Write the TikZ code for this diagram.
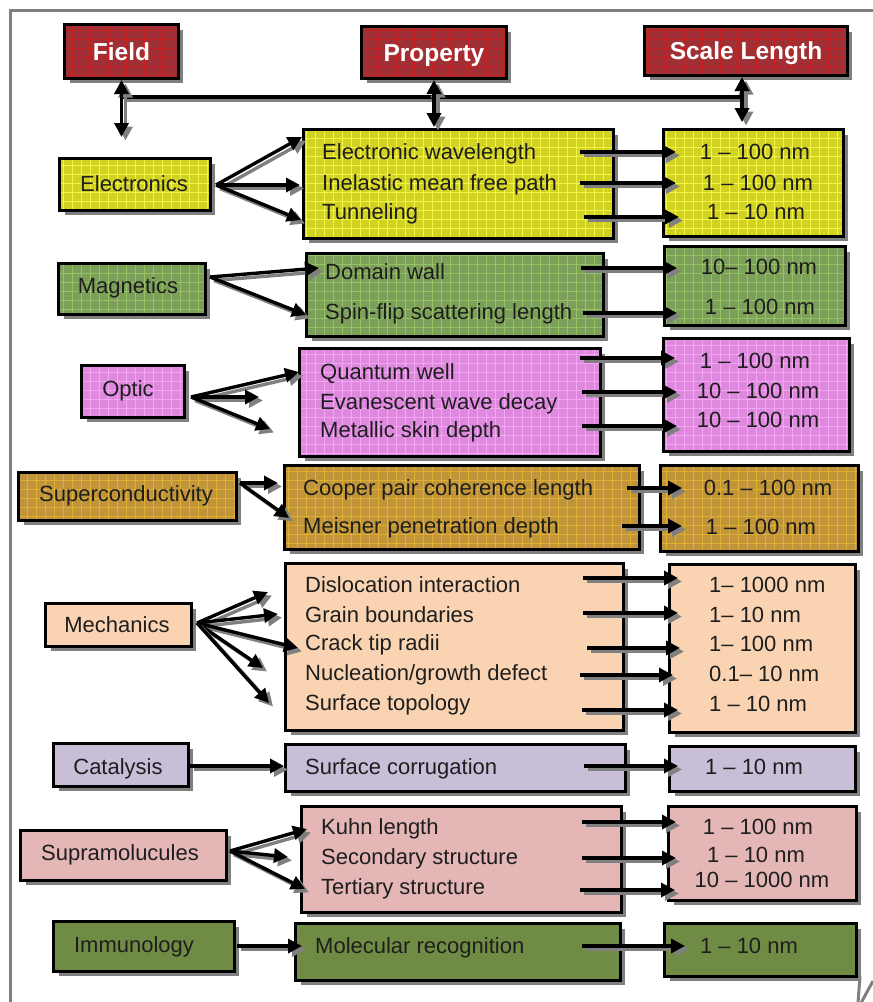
\documentclass[tikz,border=0pt]{standalone}
\usepackage{fontspec}
\setmainfont{Liberation Sans}
\usetikzlibrary{arrows.meta,shadows,patterns.meta}
\definecolor{hdrc}{RGB}{158,48,54}
\definecolor{hdrg}{RGB}{200,30,30}
\definecolor{yelc}{RGB}{210,210,34}
\definecolor{yelg}{RGB}{245,245,70}
\definecolor{grnc}{RGB}{124,160,90}
\definecolor{grng}{RGB}{150,195,100}
\definecolor{pnkc}{RGB}{222,136,222}
\definecolor{pnkg}{RGB}{245,165,245}
\definecolor{gldc}{RGB}{192,148,56}
\definecolor{gldg}{RGB}{225,175,50}
\definecolor{pchc}{RGB}{250,212,178}
\definecolor{lavc}{RGB}{200,190,215}
\definecolor{rosc}{RGB}{228,182,182}
\definecolor{olvc}{RGB}{112,140,68}
\definecolor{txtc}{RGB}{30,30,30}
\newcommand\mkbox[6]{\node[#6, minimum width={#4-#2-3.2}, minimum height={#5-#3-3.2}] (#1) at ({(#2+#4)/2},{(#3+#5)/2}) {};}
\tikzset{
  box/.style={draw=black, line width=3.2pt, inner sep=0pt,
    drop shadow={shadow xshift=5pt, shadow yshift=-5pt, fill=gray, opacity=1}},
  gbox/.style 2 args={box, preaction={fill=#1},
    preaction={pattern={Lines[angle=0,distance=9pt,line width=0.6pt]}, pattern color=#2},
    preaction={pattern={Lines[angle=90,distance=9pt,line width=0.6pt]}, pattern color=#2}},
  flatbox/.style={box, preaction={fill=#1}},
  txt/.style={font=\fontsize{22}{25}\selectfont, text=txtc, inner sep=0pt, anchor=west, text height=15.8pt, text depth=0pt},
  ctxt/.style={txt, anchor=center},
  hdr/.style={font=\bfseries\fontsize{24.5}{28}\selectfont, text=white, inner sep=0pt, text height=17.5pt, text depth=0pt},
  arrtip/.style={-{Triangle[length=14pt,width=14pt]}},
  arr/.style={line width=3.4pt, arrtip,
    preaction={draw=gray, line width=3.4pt, arrtip, transform canvas={xshift=4pt,yshift=-3.5pt}}},
  darr/.style={line width=3.4pt, {Triangle[length=14pt,width=14pt]}-{Triangle[length=14pt,width=14pt]},
    preaction={draw=gray, line width=3.4pt, {Triangle[length=14pt,width=14pt]}-{Triangle[length=14pt,width=14pt]}, transform canvas={xshift=4pt,yshift=-3.5pt}}},
  ln/.style={line width=3.4pt,
    preaction={draw=gray, line width=3.4pt, transform canvas={xshift=4pt,yshift=-3.5pt}}},
  frame/.style={draw=gray, line width=3pt}
}
\begin{document}
\begin{tikzpicture}[x=1pt,y=-1pt]
\useasboundingbox (0,0) rectangle (873,1002);
\fill[white] (0,0) rectangle (873,1002);
\draw[frame] (10,1005) -- (10,10) -- (876,10);
\draw[frame] (873,981) -- (861,1003);
\draw[frame] (860,976) -- (858,1003);

% headers
\mkbox{field}{63}{23}{180}{80}{gbox={hdrc}{hdrg}}
\mkbox{property}{360}{25}{508}{80}{gbox={hdrc}{hdrg}}
\mkbox{scale}{643}{25}{849}{77}{gbox={hdrc}{hdrg}}
\node[hdr] (fieldt) at (field) {Field};
\node[hdr] (propertyt) at (property) {Property};
\node[hdr] (scalet) at (scale) {Scale Length};

% row boxes
\mkbox{f1}{58}{157}{212}{212}{gbox={yelc}{yelg}}
\mkbox{p1}{302}{128}{615}{240}{gbox={yelc}{yelg}}
\mkbox{s1}{662}{128}{845}{238}{gbox={yelc}{yelg}}
\mkbox{f2}{57}{262}{207}{316}{gbox={grnc}{grng}}
\mkbox{p2}{305}{252}{605}{338}{gbox={grnc}{grng}}
\mkbox{s2}{663}{245}{847}{327}{gbox={grnc}{grng}}
\mkbox{f3}{80}{364}{186}{419}{gbox={pnkc}{pnkg}}
\mkbox{p3}{298}{347}{602}{458}{gbox={pnkc}{pnkg}}
\mkbox{s3}{662}{337}{851}{453}{gbox={pnkc}{pnkg}}
\mkbox{f4}{17}{471}{238}{522}{gbox={gldc}{gldg}}
\mkbox{p4}{283}{464}{641}{551}{gbox={gldc}{gldg}}
\mkbox{s4}{659}{464}{860}{553}{gbox={gldc}{gldg}}
\mkbox{f5}{44}{602}{193}{648}{flatbox=pchc}
\mkbox{p5}{284}{562}{625}{732}{flatbox=pchc}
\mkbox{s5}{668}{563}{857}{734}{flatbox=pchc}
\mkbox{f6}{52}{742}{190}{788}{flatbox=lavc}
\mkbox{p6}{284}{743}{627}{793}{flatbox=lavc}
\mkbox{s6}{668}{745}{857}{793}{flatbox=lavc}
\mkbox{f7}{19}{829}{228}{882}{flatbox=rosc}
\mkbox{p7}{300}{805}{623}{914}{flatbox=rosc}
\mkbox{s7}{667}{805}{858}{902}{flatbox=rosc}
\mkbox{f8}{52}{920}{236}{973}{flatbox=olvc}
\mkbox{p8}{294}{922}{622}{982}{flatbox=olvc}
\mkbox{s8}{663}{922}{858}{978}{flatbox=olvc}

% field labels
\node[ctxt] (f1t) at (134,184) {Electronics};
\node[ctxt] (f2t) at (128,286) {Magnetics};
\node[ctxt] (f3t) at (128,389) {Optic};
\node[ctxt] (f4t) at (126,494) {Superconductivity};
\node[ctxt] (f5t) at (117,625) {Mechanics};
\node[ctxt] (f6t) at (118,767) {Catalysis};
\node[ctxt] (f7t) at (120,853) {Supramolucules};
\node[ctxt] (f8t) at (134,945) {Immunology};

% property texts
\node[txt] (p1a) at (322,152) {Electronic wavelength};
\node[txt] (p1b) at (322,183) {Inelastic mean free path};
\node[txt] (p1c) at (322,212) {Tunneling};
\node[txt] (p2a) at (325,272) {Domain wall};
\node[txt] (p2b) at (325,312) {Spin-flip scattering length};
\node[txt] (p3a) at (320,372) {Quantum well};
\node[txt] (p3b) at (320,402) {Evanescent wave decay};
\node[txt] (p3c) at (320,430) {Metallic skin depth};
\node[txt] (p4a) at (303,488) {Cooper pair coherence length};
\node[txt] (p4b) at (303,526) {Meisner penetration depth};
\node[txt] (p5a) at (305,585) {Dislocation interaction};
\node[txt] (p5b) at (305,615) {Grain boundaries};
\node[txt] (p5c) at (305,643) {Crack tip radii};
\node[txt] (p5d) at (305,673) {Nucleation/growth defect};
\node[txt] (p5e) at (305,703) {Surface topology};
\node[txt] (p6a) at (305,767) {Surface corrugation};
\node[txt] (p7a) at (321,827) {Kuhn length};
\node[txt] (p7b) at (321,857) {Secondary structure};
\node[txt] (p7c) at (321,887) {Tertiary structure};
\node[txt] (p8a) at (315,946) {Molecular recognition};

% scale texts
\node[ctxt] (s1a) at (755,152) {1 – 100 nm};
\node[ctxt] (s1b) at (758,183) {1 – 100 nm};
\node[ctxt] (s1c) at (756,212) {1 – 10 nm};
\node[ctxt] (s2a) at (759,267) {10– 100 nm};
\node[ctxt] (s2b) at (760,307) {1 – 100 nm};
\node[ctxt] (s3a) at (755,361) {1 – 100 nm};
\node[ctxt] (s3b) at (758,391) {10 – 100 nm};
\node[ctxt] (s3c) at (758,420) {10 – 100 nm};
\node[ctxt] (s4a) at (768,488) {0.1 – 100 nm};
\node[ctxt] (s4b) at (761,527) {1 – 100 nm};
\node[txt] (s5a) at (709,585) {1– 1000 nm};
\node[txt] (s5b) at (709,615) {1– 10 nm};
\node[txt] (s5c) at (709,644) {1– 100 nm};
\node[txt] (s5d) at (709,674) {0.1– 10 nm};
\node[txt] (s5e) at (709,704) {1 – 10 nm};
\node[ctxt] (s6a) at (754,767) {1 – 10 nm};
\node[ctxt] (s7a) at (758,827) {1 – 100 nm};
\node[ctxt] (s7b) at (756,855) {1 – 10 nm};
\node[ctxt] (s7c) at (762,880) {10 – 1000 nm};
\node[ctxt] (s8a) at (749,946) {1 – 10 nm};

% top connectors
\coordinate (ft) at (121.5,137);
\coordinate (pt) at (434,127);
\coordinate (st) at (742,122);
\coordinate (hl) at (121.5,97);
\coordinate (hr) at (742,97);
\draw[ln] (hl) -- (hr);
\draw[darr] (field.south) -- (ft);
\draw[darr] (property.south) -- (pt);
\draw[darr] (scale.south -| st) -- (st);

% field -> property arrows
\coordinate (o1) at (216,185);
\coordinate (e1a) at (302,137);
\coordinate (e1b) at (300,185);
\coordinate (e1c) at (301,220);
\draw[arr] (o1) -- (e1a);
\draw[arr] (o1) -- (e1b);
\draw[arr] (o1) -- (e1c);
\coordinate (o2) at (210,277);
\coordinate (e2a) at (319,268);
\coordinate (e2b) at (306,315);
\draw[arr] (o2) -- (e2a);
\draw[arr] (o2) -- (e2b);
\coordinate (o3) at (191,397);
\coordinate (e3a) at (299,372);
\coordinate (e3b) at (259,397);
\coordinate (e3c) at (270,429);
\draw[arr] (o3) -- (e3a);
\draw[arr] (o3) -- (e3b);
\draw[arr] (o3) -- (e3c);
\coordinate (o4) at (240,483);
\coordinate (e4a) at (278,483);
\coordinate (e4b) at (289,518);
\draw[arr] (o4) -- (e4a);
\draw[arr] (o4) -- (e4b);
\coordinate (o5) at (197,623);
\coordinate (e5a) at (268,592);
\coordinate (e5b) at (278,614);
\coordinate (e5c) at (298,648);
\coordinate (e5d) at (263,668);
\coordinate (e5e) at (269,703);
\draw[arr] (o5) -- (e5a);
\draw[arr] (o5) -- (e5b);
\draw[arr] (o5) -- (e5c);
\draw[arr] (o5) -- (e5d);
\draw[arr] (o5) -- (e5e);
\coordinate (o6) at (190,766);
\draw[arr] (o6) -- (o6 -| p6.west);
\coordinate (o7) at (230,851);
\coordinate (e7a) at (307,829);
\coordinate (e7b) at (288,857);
\coordinate (e7c) at (305,889);
\draw[arr] (o7) -- (e7a);
\draw[arr] (o7) -- (e7b);
\draw[arr] (o7) -- (e7c);
\coordinate (o8) at (237,946);
\coordinate (e8) at (302,946);
\draw[arr] (o8) -- (e8);

% property -> scale arrows
\coordinate (a1) at (580,152); \coordinate (b1) at (676,152);
\coordinate (a2) at (580,183); \coordinate (b2) at (676,183);
\coordinate (a3) at (584,217); \coordinate (b3) at (679,217);
\coordinate (a4) at (581,268); \coordinate (b4) at (677,268);
\coordinate (a5) at (583,313); \coordinate (b5) at (677,313);
\coordinate (a6) at (580,358); \coordinate (b6) at (675,358);
\coordinate (a7) at (582,392); \coordinate (b7) at (677,392);
\coordinate (a8) at (582,426); \coordinate (b8) at (677,426);
\coordinate (a9) at (627,488); \coordinate (b9) at (682,488);
\coordinate (a10) at (622,526); \coordinate (b10) at (682,526);
\coordinate (a11) at (583,578); \coordinate (b11) at (678,578);
\coordinate (a12) at (583,613); \coordinate (b12) at (678,613);
\coordinate (a13) at (587,648); \coordinate (b13) at (680,648);
\coordinate (a14) at (580,675); \coordinate (b14) at (673,675);
\coordinate (a15) at (582,710); \coordinate (b15) at (678,710);
\coordinate (a16) at (584,766); \coordinate (b16) at (678,766);
\coordinate (a17) at (582,822); \coordinate (b17) at (676,822);
\coordinate (a18) at (582,858); \coordinate (b18) at (676,858);
\coordinate (a19) at (580,890); \coordinate (b19) at (675,890);
\coordinate (a20) at (582,946); \coordinate (b20) at (685,946);
\foreach \i in {1,...,20} {\draw[arr] (a\i) -- (b\i);}
\end{tikzpicture}
\end{document}
